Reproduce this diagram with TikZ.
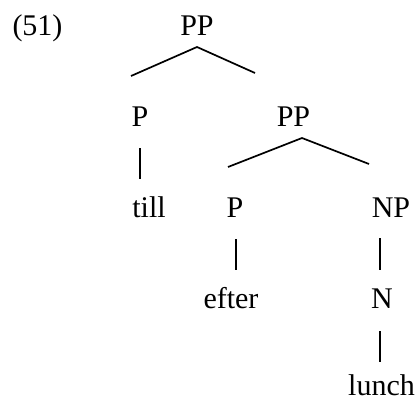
\documentclass[tikz,border=0pt]{standalone}
\usepackage{fontspec}
\setmainfont{Liberation Serif}
\begin{document}
\begin{tikzpicture}[x=1pt,y=-1pt,
  lbl/.style={anchor=base,inner sep=0pt,font=\fontsize{30}{36}\selectfont},
  branch/.style={line width=1.7pt,line join=miter}]
\useasboundingbox (0,0) rectangle (420,401);

% example number
\node[lbl] (num) at (37.5,36) {(51)};

% labels of the tree
\node[lbl] (pp1)   at (197,36)   {PP};
\node[lbl] (p1)    at (140,127)  {P};
\node[lbl] (pp2)   at (293.5,127){PP};
\node[lbl] (till)  at (149,217)  {till};
\node[lbl] (p2)    at (235,217)  {P};
\node[lbl] (np)    at (391,217)  {NP};
\node[lbl] (efter) at (231,308)  {efter};
\node[lbl] (n)     at (382,308)  {N};
\node[lbl] (lunch) at (381.5,395.5)  {lunch};

% ends of the branches
\coordinate (pp1-top) at (197,47);
\coordinate (pp1-l)   at (131,76);
\coordinate (pp1-r)   at (255,73);
\coordinate (pp2-top) at (302,138);
\coordinate (pp2-l)   at (228,167);
\coordinate (pp2-r)   at (369,164);
\coordinate (p1-top)  at (140,148);
\coordinate (p1-bot)  at (140,179);
\coordinate (p2-top)  at (236,239);
\coordinate (p2-bot)  at (236,270);
\coordinate (np-top)  at (380,238);
\coordinate (np-bot)  at (380,270);
\coordinate (n-top)   at (380,331);
\coordinate (n-bot)   at (380,362);

% branches
\draw[branch] (pp1-l) -- (pp1-top) -- (pp1-r);
\draw[branch] (pp2-l) -- (pp2-top) -- (pp2-r);
\draw[branch] (p1-top) -- (p1-bot);
\draw[branch] (p2-top) -- (p2-bot);
\draw[branch] (np-top) -- (np-bot);
\draw[branch] (n-top) -- (n-bot);
\end{tikzpicture}
\end{document}
